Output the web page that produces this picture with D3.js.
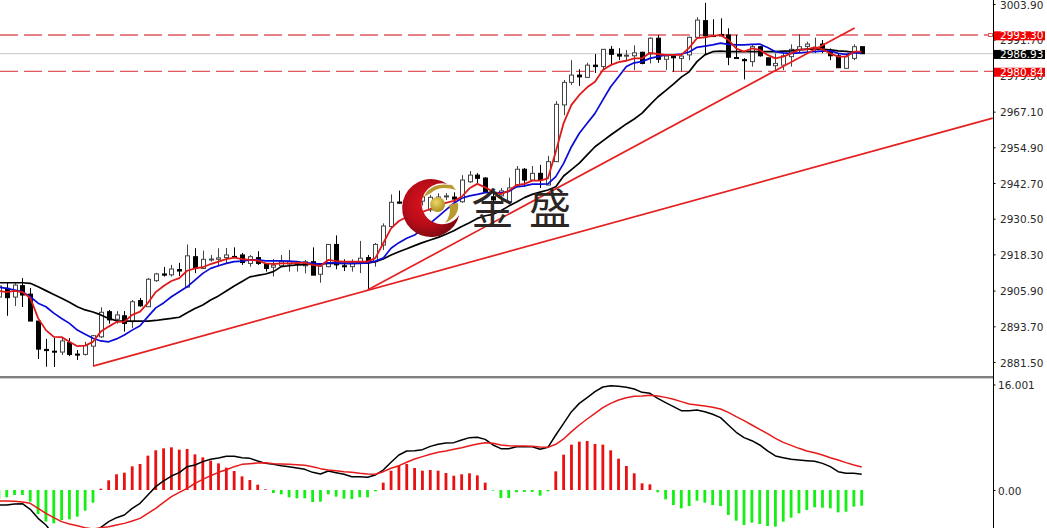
<!DOCTYPE html>
<html><head><meta charset="utf-8">
<script src="https://d3js.org/d3.v7.min.js"></script>
<style>html,body{margin:0;padding:0;background:#fff;overflow:hidden}svg{display:block}</style>
</head><body><svg id="c" width="1047" height="528"></svg>
<script>
const opens=[2903.7,2906.7,2903.7,2907.6,2904.7,2895.5,2885.8,2885.2,2884.9,2888.1,
2884.2,2884.1,2886.9,2890.1,2898.7,2896.1,2897.3,2895.3,2902.5,2900.4,
2909.3,2911.6,2911.3,2913.1,2907.1,2917.5,2913.5,2916.4,2916.6,2917.2,
2917.6,2918.1,2915.2,2917.2,2915.0,2913.9,2914.4,2915.0,2915.0,2914.4,
2915.8,2911.5,2914.1,2921.7,2914.4,2914.1,2915.2,2917.2,2915.8,2921.5,
2927.8,2936.2,2935.5,2937.5,2936.5,2933.5,2934.8,2938.1,2937.9,2936.3,
2943.1,2945.4,2944.4,2938.0,2938.3,2936.2,2942.0,2947.4,2943.7,2946.0,
2942.0,2950.0,2969.4,2977.1,2979.6,2978.8,2983.0,2982.5,2988.4,2986.7,
2986.1,2986.2,2987.4,2986.8,2992.2,2985.0,2986.1,2985.3,2986.5,2992.5,
2998.2,2993.1,2993.5,2993.3,2985.6,2984.9,2984.2,2989.3,2985.5,2982.8,
2983.0,2985.9,2988.4,2989.4,2988.9,2990.2,2987.8,2986.2,2981.9,2985.3,2989.3];
const closes=[2907.5,2903.5,2907.8,2904.4,2895.5,2885.9,2885.4,2884.9,2888.7,2884.1,
2884.0,2887.1,2890.5,2898.5,2895.9,2897.6,2894.7,2902.1,2900.7,2909.8,
2911.6,2911.2,2913.3,2912.6,2917.8,2913.5,2916.6,2916.7,2917.1,2918.1,
2917.4,2915.5,2917.5,2915.2,2913.5,2914.6,2915.8,2915.8,2915.3,2915.8,
2911.2,2914.3,2921.7,2914.7,2914.2,2915.2,2917.0,2915.8,2921.7,2928.0,
2936.1,2935.8,2937.9,2936.5,2938.0,2937.8,2937.9,2938.3,2937.2,2943.7,
2945.4,2944.3,2939.8,2936.9,2940.0,2941.0,2947.4,2943.7,2946.0,2943.7,
2950.0,2969.6,2977.1,2979.6,2979.0,2983.0,2982.5,2988.4,2986.7,2986.1,
2986.4,2987.2,2983.6,2992.2,2985.0,2986.1,2985.5,2986.1,2992.5,2998.4,
2993.0,2992.8,2993.0,2985.7,2985.3,2984.5,2989.3,2986.2,2983.0,2983.6,
2986.2,2988.4,2989.3,2990.2,2989.1,2988.8,2986.2,2982.1,2985.9,2989.3,2986.9];
const highs=[2908.5,2908.5,2908.5,2910.2,2906.8,2895.5,2889.4,2889.8,2889.7,2889.7,
2885.6,2888.4,2890.7,2900.2,2899.3,2898.9,2898.9,2902.7,2903.4,2910.2,
2912.0,2914.0,2914.7,2915.4,2921.7,2920.4,2919.6,2918.1,2920.4,2920.5,
2920.7,2918.8,2918.1,2919.4,2915.3,2916.7,2918.1,2919.8,2915.8,2916.4,
2920.7,2914.8,2921.8,2924.8,2916.6,2916.6,2922.9,2918.1,2922.2,2928.9,
2938.8,2940.1,2939.0,2938.5,2939.5,2938.6,2939.2,2939.3,2939.5,2945.4,
2946.8,2946.1,2944.7,2939.2,2941.0,2944.5,2948.5,2947.8,2948.5,2948.9,
2952.0,2970.7,2977.9,2984.7,2981.6,2983.8,2986.8,2988.5,2989.5,2988.8,
2988.2,2989.8,2987.6,2992.5,2993.3,2986.1,2986.5,2986.8,2992.7,2999.4,
3004.3,2998.7,2999.0,2995.6,2993.3,2985.4,2989.9,2989.5,2985.5,2987.0,
2987.1,2990.1,2993.5,2991.0,2992.4,2991.6,2988.7,2987.1,2986.5,2990.1,2989.3];
const lows=[2900.6,2897.3,2900.6,2900.3,2895.5,2882.5,2879.9,2879.8,2883.9,2883.5,
2882.2,2883.7,2880.1,2889.7,2894.6,2894.6,2891.9,2893.1,2900.4,2900.4,
2908.9,2910.7,2910.7,2910.9,2907.1,2911.9,2913.5,2915.8,2914.1,2915.3,
2917.0,2914.7,2914.1,2914.7,2912.4,2910.7,2914.1,2912.4,2912.4,2911.8,
2911.2,2908.6,2913.9,2913.2,2912.6,2912.4,2911.9,2906.1,2914.1,2919.8,
2927.8,2935.7,2934.5,2935.5,2935.0,2932.8,2934.0,2936.9,2935.9,2935.9,
2942.7,2942.7,2939.3,2935.9,2935.9,2935.5,2941.4,2941.4,2943.4,2941.0,
2942.0,2950.0,2965.9,2976.2,2975.9,2978.7,2980.3,2981.3,2983.3,2984.7,
2984.7,2981.3,2983.3,2983.6,2983.8,2981.3,2980.8,2980.8,2984.7,2992.5,
2986.5,2992.8,2993.0,2983.0,2985.1,2978.1,2982.5,2985.9,2983.0,2981.3,
2981.3,2982.5,2987.1,2987.1,2987.1,2987.1,2984.7,2982.1,2981.9,2984.7,2986.9];
const maFast=[2905.8,2905.4,2905.8,2905.4,2903.4,2896.5,2892.4,2890.1,2890.0,2888.4,
2886.9,2887.1,2888.4,2891.9,2893.6,2895.2,2895.3,2897.6,2898.7,2901.7,
2905.4,2907.5,2909.2,2910.2,2912.7,2913.5,2913.9,2915.0,2915.8,2916.7,
2917.2,2916.7,2916.4,2916.2,2915.2,2915.0,2915.2,2915.2,2915.4,2915.4,
2914.7,2914.3,2916.4,2916.0,2915.8,2915.8,2915.8,2915.8,2917.0,2922.1,
2927.2,2929.7,2931.1,2932.1,2932.8,2933.8,2935.2,2935.9,2936.6,2938.0,
2940.9,2942.4,2941.2,2939.7,2938.9,2940.0,2942.0,2942.4,2943.5,2943.5,
2944.3,2953.4,2963.2,2969.4,2972.8,2975.4,2977.3,2981.3,2983.0,2984.0,
2984.5,2985.3,2985.3,2987.2,2986.8,2986.5,2986.5,2986.5,2988.9,2992.2,
2992.5,2993.0,2993.3,2991.6,2988.7,2987.6,2988.7,2988.2,2986.5,2985.3,
2985.9,2987.0,2988.2,2988.4,2989.1,2988.4,2987.0,2985.9,2985.9,2987.6,2987.6];
const maMid=[2907.1,2906.7,2906.1,2905.5,2903.8,2901.6,2900.4,2898.2,2896.4,2894.7,
2892.4,2891.0,2889.6,2888.7,2888.4,2889.4,2890.7,2892.4,2893.9,2897.0,
2900.0,2901.7,2903.8,2905.5,2907.2,2909.5,2911.8,2913.5,2914.4,2915.2,
2915.8,2916.0,2916.4,2916.4,2916.1,2916.1,2916.1,2916.0,2915.8,2915.4,
2915.2,2915.0,2915.4,2915.4,2915.2,2915.2,2915.2,2915.4,2916.0,2917.0,
2920.4,2922.3,2923.8,2924.9,2927.0,2929.0,2931.2,2933.5,2935.8,2937.5,
2938.3,2938.8,2939.4,2939.4,2939.3,2939.8,2941.4,2941.7,2942.3,2942.3,
2942.4,2944.9,2949.4,2955.1,2959.7,2963.1,2966.5,2971.1,2975.6,2979.0,
2982.5,2983.8,2984.2,2985.3,2985.9,2986.5,2986.5,2986.8,2987.5,2989.1,
2989.5,2989.9,2990.5,2990.1,2989.9,2989.9,2990.1,2990.2,2989.0,2987.6,
2987.2,2987.0,2987.2,2987.4,2987.6,2987.8,2987.9,2987.0,2986.7,2987.2,2987.2];
const maSlow=[2908.6,2908.6,2908.6,2908.6,2908.4,2907.2,2905.9,2904.6,2903.3,2901.9,
2900.4,2899.3,2898.6,2897.6,2896.4,2895.6,2895.5,2895.5,2895.5,2895.5,
2895.7,2896.1,2896.4,2896.8,2898.3,2899.8,2901.0,2902.7,2904.1,2905.8,
2907.5,2909.0,2910.6,2911.1,2911.6,2912.4,2914.1,2914.4,2914.7,2914.8,
2915.0,2915.0,2915.2,2915.2,2915.2,2915.2,2915.3,2915.3,2915.8,2916.7,
2918.1,2919.2,2920.2,2921.3,2922.3,2923.2,2924.1,2925.2,2926.4,2927.8,
2929.1,2930.6,2931.5,2932.0,2933.2,2934.8,2936.2,2937.7,2938.8,2939.6,
2940.3,2941.4,2945.1,2947.3,2949.5,2952.3,2955.1,2957.1,2959.1,2961.0,
2962.9,2964.6,2966.6,2969.4,2972.1,2974.3,2976.5,2978.9,2980.7,2984.2,
2986.5,2987.6,2987.8,2987.6,2987.6,2987.6,2987.6,2987.6,2987.6,2987.6,
2987.8,2987.9,2988.2,2988.5,2988.5,2988.4,2988.2,2987.9,2987.7,2987.4,2987.2];
const macdHist=[-1.37,-1.11,-0.76,-0.76,-1.77,-3.64,-4.80,-5.06,-4.55,-4.45,
-4.04,-3.13,-1.92,0.20,1.47,2.38,2.63,3.59,3.94,5.21,
6.02,6.32,6.47,6.12,6.22,5.41,4.95,4.45,4.04,3.39,
2.88,2.07,1.52,0.81,0.10,-0.46,-0.66,-1.11,-1.26,-1.26,
-1.82,-1.77,-0.66,-1.01,-1.31,-1.37,-1.11,-1.11,-0.20,1.11,
2.93,3.69,3.94,3.34,2.93,3.03,2.93,2.58,2.17,2.38,
2.53,2.22,1.11,-0.10,-1.21,-1.21,-0.35,-0.30,-0.30,-0.86,
-0.20,2.83,5.36,6.88,7.33,7.43,6.98,6.88,6.02,4.75,
3.64,2.53,1.01,0.86,-0.35,-1.42,-2.28,-2.78,-2.43,-1.62,
-1.92,-2.28,-2.43,-3.79,-4.65,-5.31,-4.95,-5.16,-5.46,-5.56,
-4.80,-4.20,-3.54,-3.03,-2.63,-2.68,-2.78,-3.39,-3.29,-2.53,-2.38];
const macdLine=[-2.28,-2.28,-2.12,-2.07,-2.93,-4.30,-5.31,-6.83,-8.09,-8.34,
-8.09,-7.33,-6.57,-5.66,-4.80,-4.20,-3.79,-2.78,-2.02,-0.76,
0.51,1.37,2.12,2.63,3.54,3.79,4.30,4.65,4.85,5.11,
5.11,4.90,4.80,4.40,4.04,3.89,3.69,3.54,3.34,3.13,
2.68,2.43,2.88,2.63,2.38,2.02,2.02,1.92,2.28,3.03,
4.20,5.31,5.92,5.97,6.12,6.62,6.93,7.13,7.18,7.58,
7.94,7.99,7.68,6.83,6.27,6.27,6.57,6.57,6.57,6.17,
6.47,8.34,10.11,11.88,13.14,14.00,14.91,15.62,15.82,15.72,
15.57,15.32,14.81,14.66,13.90,13.25,12.64,12.03,12.03,12.13,
11.88,11.48,10.97,9.86,8.75,7.94,7.48,6.83,5.92,5.16,
4.90,4.65,4.55,4.45,4.35,4.04,3.54,2.78,2.53,2.53,2.38];
const macdSignal=[-1.67,-1.67,-1.72,-1.82,-2.02,-2.78,-3.54,-4.20,-4.80,-5.16,
-5.41,-5.71,-5.92,-5.71,-5.56,-5.31,-5.06,-4.70,-4.30,-3.54,
-2.78,-1.87,-1.01,-0.35,0.25,1.01,1.62,2.17,2.68,3.08,
3.54,3.89,3.99,4.10,4.15,3.99,3.94,3.89,3.84,3.74,
3.54,3.24,3.03,2.93,2.78,2.68,2.53,2.43,2.38,2.78,
3.29,3.69,4.20,4.70,5.06,5.41,5.71,5.92,6.17,6.42,
6.72,6.98,7.18,7.08,6.83,6.72,6.67,6.67,6.62,6.52,
6.47,6.93,7.74,8.85,9.86,10.77,11.63,12.49,13.14,13.65,
14.00,14.21,14.26,14.36,14.26,14.05,13.75,13.40,13.04,12.89,
12.74,12.54,12.29,11.78,11.12,10.52,9.86,9.20,8.54,7.84,
7.23,6.77,6.32,5.92,5.66,5.31,4.90,4.55,4.15,3.79,3.49];
const priceTicks=[3003.90,2991.70,2979.50,2967.10,2954.90,2942.70,2930.50,2918.30,2905.90,2893.70,2881.50];
const macdTicks=[16.001,0];
const macdTickLabels=["16.001","0.00"];
const trendA=[[12,2880.1],[126.7,2964.9]];
const trendB=[[47,2906.1],[109.1,2995.7]];
const levels=[2993.30,2980.84];
const lastPrice=2986.93;
const logoWords=["金","盛"];

const W=1047,H=528,axisX=993.5;
const svg=d3.select("#c");
const x=d3.scaleLinear().domain([0,110]).range([-1.14,861.7]);
const y=d3.scaleLinear().domain([2881.5,3003.9]).range([362,4]);
const ym=d3.scaleLinear().domain([0,16.001]).range([490,384.5]);
const idx=d3.range(opens.length);

svg.append("defs").html(`<clipPath id="pm"><rect x="0" y="379" width="${axisX}" height="149"/></clipPath>
<clipPath id="pt"><rect x="0" y="0" width="${axisX}" height="376"/></clipPath>
<radialGradient id="rg" cx="0.42" cy="0.42" r="0.62"><stop offset="0" stop-color="#dc1420"/><stop offset="0.6" stop-color="#b80c18"/><stop offset="1" stop-color="#7c0a12"/></radialGradient>
<radialGradient id="gd" cx="0.4" cy="0.35" r="0.7"><stop offset="0" stop-color="#efd868"/><stop offset="1" stop-color="#a88a1c"/></radialGradient>`);

const pricePane=svg.append("g").attr("clip-path","url(#pt)");
pricePane.append("line").attr("x1",0).attr("x2",axisX).attr("y1",y(lastPrice)).attr("y2",y(lastPrice)).attr("stroke","#c8c8c8").attr("stroke-width",1);
pricePane.selectAll(".lvl").data(levels).join("line").attr("x1",0).attr("x2",axisX).attr("y1",d=>y(d)).attr("y2",d=>y(d))
 .attr("stroke","#e0585c").attr("stroke-width",1.3).attr("stroke-dasharray","18,6");
pricePane.append("rect").attr("x",988.5).attr("y",y(levels[0])-1.5).attr("width",4).attr("height",3).attr("fill","#fff").attr("stroke","#e0585c");

const cg=pricePane.append("g");
idx.forEach(i=>{
 const up=closes[i]>=opens[i],col=up?"#444":"#000",cx=Math.round(x(i))+0.5;
 cg.append("line").attr("x1",cx).attr("x2",cx).attr("y1",y(highs[i])).attr("y2",y(lows[i])).attr("stroke",col).attr("stroke-width",1);
 const t=y(Math.max(opens[i],closes[i])),b=y(Math.min(opens[i],closes[i]));
 const h=Math.max(b-t,1);
 cg.append("rect").attr("x",cx-2).attr("width",4).attr("y",t).attr("height",h)
  .attr("fill",up?"#fff":"#000").attr("stroke",col).attr("stroke-width",1);
});
const mkLine=(data,sc,color,w,g)=>g.append("path").datum(data)
 .attr("d",d3.line().x((d,i)=>x(i)).y(d=>sc(d))).attr("fill","none").attr("stroke",color).attr("stroke-width",w).attr("stroke-linejoin","round");
mkLine(maSlow,y,"#000",1.7,pricePane);
mkLine(maMid,y,"#0a0ad8",1.7,pricePane);
[trendA,trendB].forEach(t=>pricePane.append("path").datum(t)
 .attr("d",d3.line().x(d=>x(d[0])).y(d=>y(d[1]))).attr("fill","none").attr("stroke","#e62020").attr("stroke-width",1.7));
mkLine(maFast,y,"#e01818",1.8,pricePane);

// logo over the chart
const lg=svg.append("g");
lg.append("path").attr("d","M447,183.8 A29,29 0 1 0 459.3,215 A20.5,20.5 0 1 1 447,183.8 Z").attr("fill","url(#rg)");
lg.append("path").attr("d","M424,197 Q430,182 452,185 L456,190 Q440,185 431,193 Q427,195 424,197 Z").attr("fill","#b89a30");
lg.append("path").attr("d","M458,203 Q460,216 445,223 Q452,214 449,205 Q454,203 458,203 Z").attr("fill","#b89a30");
lg.append("circle").attr("cx",437.6).attr("cy",204.5).attr("r",7.5).attr("fill","url(#gd)");
svg.selectAll(".w").data(logoWords).join("text").attr("class","w")
 .attr("x",(d,i)=>492.5+i*57.5).attr("y",224).attr("text-anchor","middle")
 .attr("font-family","'Noto Sans CJK SC'").attr("font-size",42).attr("fill","#2b2624").text(d=>d);

// macd
const mg=svg.append("g").attr("clip-path","url(#pm)");
mg.selectAll("rect").data(macdHist).join("rect")
 .attr("x",(d,i)=>x(i)-1.4).attr("width",2.8)
 .attr("y",d=>d>=0?ym(d):ym(0)).attr("height",d=>Math.abs(ym(d)-ym(0)))
 .attr("fill",d=>d>=0?"#e81010":"#14f014");
mkLine(macdLine,ym,"#000",1.5,mg);
mkLine(macdSignal,ym,"#e61a1a",1.5,mg);

// frame
svg.append("rect").attr("x",0).attr("y",376).attr("width",axisX).attr("height",2.4).attr("fill","#7f7f7f");
svg.append("line").attr("x1",axisX).attr("x2",axisX).attr("y1",0).attr("y2",H).attr("stroke","#000").attr("stroke-width",1);

const styleAxis=g=>{g.select(".domain").remove();
 g.selectAll(".tick line").attr("stroke","#000");
 g.selectAll(".tick text").attr("dy","0.38em").attr("font-family","'DejaVu Sans'").attr("font-size",10.5).attr("fill","#2a2a2a");};
svg.append("g").attr("transform",`translate(${axisX},0)`)
 .call(d3.axisRight(y).tickValues(priceTicks).tickSize(2).tickPadding(4.5).tickFormat(d3.format(".2f"))).call(styleAxis);
svg.append("g").attr("transform",`translate(${axisX},0)`)
 .call(d3.axisRight(ym).tickValues(macdTicks).tickSize(2).tickPadding(2.5).tickFormat((d,i)=>macdTickLabels[i])).call(styleAxis);

// price tags
const tags=[{v:levels[0],c:"#f00000"},{v:lastPrice,c:"#000"},{v:levels[1],c:"#f00000"}];
tags.forEach(t=>{
 svg.append("rect").attr("x",axisX+0.5).attr("y",y(t.v)-3.7).attr("width",51).attr("height",9).attr("fill",t.c);
 svg.append("text").attr("x",1000).attr("y",y(t.v)).attr("dy","0.42em").attr("font-family","'DejaVu Sans'").attr("font-size",10.5).attr("fill","#fff").text(d3.format(".2f")(t.v));
});
</script></body></html>
